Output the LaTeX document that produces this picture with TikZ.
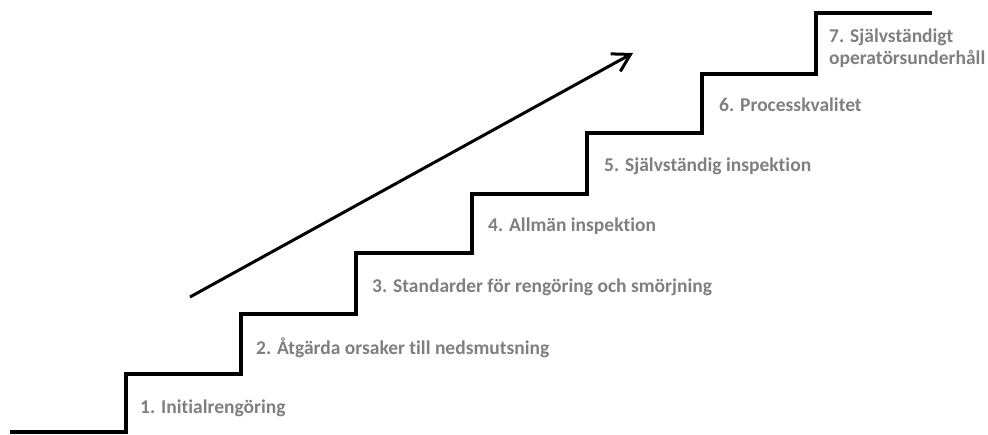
\documentclass[tikz,border=0pt]{standalone}
\usepackage{fontspec}
\setmainfont{Carlito}[Ligatures=NoCommon]
\usetikzlibrary{arrows.meta,positioning}
\definecolor{StepGray}{HTML}{7F7F7F}

\begin{document}
\begin{tikzpicture}[x=1pt,y=-1pt]
    \tikzset{lbl/.style={anchor=west,inner sep=0pt,text=StepGray,align=left,font=\fontsize{19.5}{22}\selectfont\bfseries}}
    \useasboundingbox (0,0) rectangle (988,434);
    % the stairs
    \draw[line width=4pt] (10,432) -| (126,374) -| (241,314) -| (356,253) -| (472,194)
      -| (587,133) -| (702,74) -| (816,13) -- (932,13);
    \node[lbl] (st1) at (140,408) {1. Initialrengöring};
    \node[lbl] (st2) at (256,348) {2. Åtgärda orsaker till nedsmutsning};
    \node[lbl] (st3) at (372,287) {3. Standarder för rengöring och smörjning};
    \node[lbl] (st4) at (488,226) {4. Allmän inspektion};
    \node[lbl] (st5) at (604,166) {5. Självständig inspektion};
    \node[lbl] (st6) at (719,105) {6. Processkvalitet};
    \node[lbl] (st7) at (829,48) {7. Självständigt\\operatörsunderhåll};
    % progress arrow
    \coordinate (tail) at (190,297);
    \coordinate (head) at (633,53);
    \draw[line width=3pt,-{Straight Barb[length=17pt,width=20pt]}] (tail) -- (head);
\end{tikzpicture}
\end{document}
